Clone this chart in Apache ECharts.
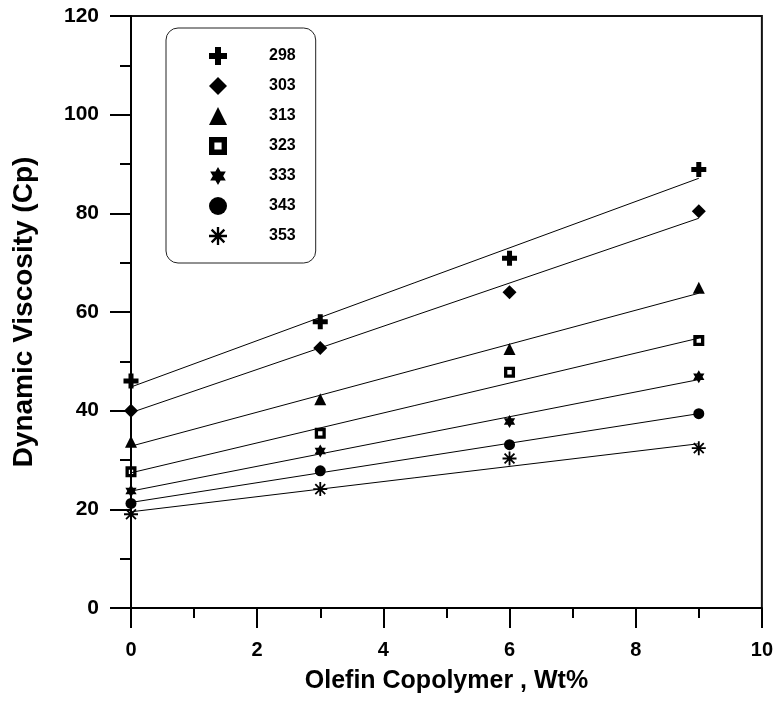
<!DOCTYPE html>
<html>
<head>
<meta charset="utf-8">
<script src="https://cdn.jsdelivr.net/npm/echarts@6/dist/echarts.min.js"></script>
<style>
  html, body { margin: 0; padding: 0; background: #fff; }
  #chart { width: 776px; height: 702px; }
</style>
</head>
<body>
<div id="chart"></div>
<script>
// Olefin copolymer loading (wt%) at which viscosity was measured
const loadings = [0, 3, 6, 9];

// Temperatures (K) used as series names
const temperatures = ['298', '303', '313', '323', '333', '343', '353'];

// Measured dynamic viscosity (cP), one array per temperature
const visc298 = [46.0, 58.0, 70.9, 88.9];
const visc303 = [40.0, 52.7, 64.0, 80.4];
const visc313 = [33.7, 42.3, 52.5, 64.9];
const visc323 = [27.6, 35.4, 47.8, 54.2];
const visc333 = [23.7, 31.8, 37.8, 46.9];
const visc343 = [21.2, 27.8, 33.1, 39.4];
const visc353 = [19.0, 24.1, 30.3, 32.4];

// Straight-line fits: values at 0 wt% and at 9 wt%
const fitStart = [44.8, 39.6, 32.8, 27.4, 23.7, 21.4, 19.5];
const fitEnd   = [87.1, 79.0, 63.8, 54.7, 46.3, 39.4, 33.3];

// Axis tick values
const xTicks = [0, 2, 4, 6, 8, 10];
const yTicks = [0, 20, 40, 60, 80, 100, 120];

const measured = [visc298, visc303, visc313, visc323, visc333, visc343, visc353];

// ---- marker shapes ----
function spokes(angles, w) {
  // union of thin bars through the centre, used for the asterisk
  let p = '';
  angles.forEach(a => {
    const r = a * Math.PI / 180;
    const dx = Math.cos(r), dy = Math.sin(r);
    const nx = -dy * w / 2, ny = dx * w / 2;
    const pts = [
      [-dx + nx, -dy + ny], [dx + nx, dy + ny],
      [dx - nx, dy - ny], [-dx - nx, -dy - ny]
    ];
    p += 'M' + pts.map(q => q[0].toFixed(3) + ',' + q[1].toFixed(3)).join('L') + 'Z';
  });
  return 'path://' + p;
}
const plusPath = 'path://M-1,-3H1V-1H3V1H1V3H-1V1H-3V-1H-1Z';
const squarePath = 'path://M0,0H10V10H0ZM3,3V7H7V3Z';
const hexPath = 'path://M0,-1L0.866,0.5L-0.866,0.5ZM0,1L-0.866,-0.5L0.866,-0.5Z';
const starPath = spokes([0, 45, 90, 135], 0.26);

const symbols = [plusPath, 'diamond', 'triangle', squarePath, hexPath, 'circle', starPath];
const symbolSizes = [15, 14, 12, 11, 13, 11, 14];

const series = [];
temperatures.forEach((t, i) => {
  series.push({
    name: t + '_fit',
    type: 'line',
    data: [[loadings[0], fitStart[i]], [loadings[loadings.length - 1], fitEnd[i]]],
    showSymbol: false,
    silent: true,
    lineStyle: { color: '#000', width: 1 },
    z: 2
  });
});
temperatures.forEach((t, i) => {
  series.push({
    name: t,
    type: 'scatter',
    data: loadings.map((x, j) => [x, measured[i][j]]),
    symbol: symbols[i],
    symbolSize: symbolSizes[i],
    symbolKeepAspect: true,
    itemStyle: { color: '#000', opacity: 1 },
    z: 3
  });
});

const chart = echarts.init(document.getElementById('chart'), null, { renderer: 'canvas' });
const font = 'Liberation Sans, Arial, sans-serif';

chart.setOption({
  animation: false,
  backgroundColor: '#fff',
  grid: {
    left: 131, right: 14, top: 16, bottom: 94,
    show: true, borderColor: '#111', borderWidth: 2, backgroundColor: 'transparent'
  },
  legend: {
    data: temperatures,
    orient: 'vertical',
    left: 166, top: 28,
    itemWidth: 18, itemHeight: 18, itemGap: 12,
    padding: [19, 20, 18, 43],
    backgroundColor: '#fff',
    borderColor: '#222', borderWidth: 1, borderRadius: 12,
    selectedMode: false,
    textStyle: { fontFamily: font, fontWeight: 'bold', fontSize: 16, color: '#000', padding: [0, 0, 0, 37] }
  },
  xAxis: {
    type: 'value',
    min: xTicks[0], max: xTicks[xTicks.length - 1], interval: 2,
    name: 'Olefin Copolymer , Wt%',
    nameLocation: 'middle', nameGap: 61,
    nameTextStyle: { fontFamily: font, fontWeight: 'bold', fontSize: 25, color: '#000' },
    axisLine: { onZero: false, lineStyle: { color: '#000', width: 2 } },
    axisTick: { show: true, inside: false, length: 20, lineStyle: { color: '#000', width: 2 } },
    minorTick: { show: true, splitNumber: 2, length: 10, lineStyle: { color: '#000', width: 2 } },
    axisLabel: { margin: 32, fontFamily: font, fontWeight: 'bold', fontSize: 20, color: '#000' },
    splitLine: { show: false }
  },
  yAxis: {
    type: 'value',
    min: yTicks[0], max: yTicks[yTicks.length - 1], interval: 20,
    name: 'Dynamic Viscosity (Cp)',
    nameLocation: 'middle', nameGap: 93,
    nameTextStyle: { fontFamily: font, fontWeight: 'bold', fontSize: 28, color: '#000' },
    axisLine: { onZero: false, lineStyle: { color: '#000', width: 2 } },
    axisTick: { show: true, inside: false, length: 21, lineStyle: { color: '#000', width: 2 } },
    minorTick: { show: true, splitNumber: 2, length: 11, lineStyle: { color: '#000', width: 2 } },
    axisLabel: { margin: 32, fontFamily: font, fontWeight: 'bold', fontSize: 21, color: '#000' },
    splitLine: { show: false }
  },
  series: series
});
</script>
</body>
</html>
